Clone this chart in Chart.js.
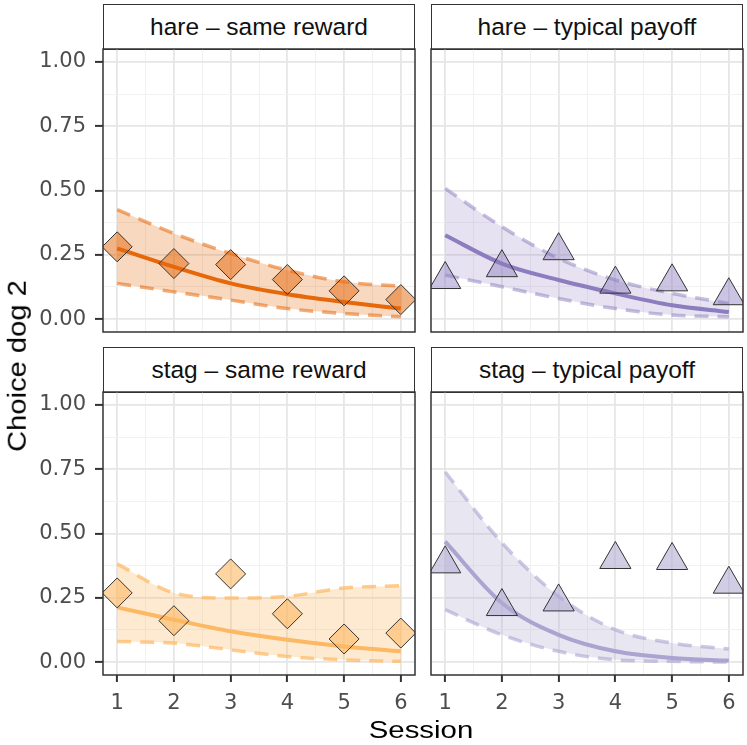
<!DOCTYPE html>
<html>
<head>
<meta charset="utf-8">
<script src="https://cdn.jsdelivr.net/npm/chart.js@4.4.1/dist/chart.umd.min.js"></script>
<style>
  body { margin: 0; background: #fff; }
  #wrap { position: relative; width: 747px; height: 745px; overflow: hidden; font-family: "Liberation Sans", Arial, sans-serif; }
  canvas { position: absolute; }
  .strip { position: absolute; box-sizing: border-box; border: 1.5px solid #333; background: #fff; color: #111; font-size: 24.5px; text-align: center; padding-top: 2px; }
  .title { position: absolute; color: #000; white-space: nowrap; line-height: 1; }
</style>
</head>
<body>
<div id="wrap"></div>
<script>
const sessions = [1, 2, 3, 4, 5, 6];
const xTickLabels = ["1", "2", "3", "4", "5", "6"];
const yTickValues = [0, 0.25, 0.5, 0.75, 1];
const yTickLabels = ["0.00", "0.25", "0.50", "0.75", "1.00"];
const panelTitles = ["hare – same reward", "hare – typical payoff", "stag – same reward", "stag – typical payoff"];

// hare – same reward
const hareSamePoints = [0.281, 0.216, 0.212, 0.154, 0.110, 0.076];
const hareSameFit = [0.275, 0.203, 0.139, 0.097, 0.067, 0.041];
const hareSameUpper = [0.426, 0.333, 0.255, 0.190, 0.145, 0.128];
const hareSameLower = [0.139, 0.106, 0.074, 0.041, 0.022, 0.009];

// hare – typical payoff
const hareTypPoints = [0.154, 0.200, 0.266, 0.136, 0.145, 0.091];
const hareTypFit = [0.326, 0.216, 0.152, 0.100, 0.054, 0.028];
const hareTypUpper = [0.508, 0.359, 0.236, 0.152, 0.100, 0.061];
const hareTypLower = [0.171, 0.126, 0.080, 0.041, 0.016, 0.009];

// stag – same reward
const stagSamePoints = [0.269, 0.161, 0.343, 0.188, 0.090, 0.113];
const stagSameFit = [0.213, 0.165, 0.120, 0.087, 0.061, 0.042];
const stagSameUpper = [0.382, 0.269, 0.249, 0.256, 0.288, 0.297];
const stagSameLower = [0.080, 0.074, 0.048, 0.022, 0.009, 0.003];

// stag – typical payoff
const stagTypPoints = [0.382, 0.216, 0.234, 0.399, 0.395, 0.303];
const stagTypFit = [0.468, 0.230, 0.106, 0.042, 0.016, 0.006];
const stagTypUpper = [0.739, 0.464, 0.256, 0.126, 0.074, 0.051];
const stagTypLower = [0.204, 0.106, 0.042, 0.009, 0.003, 0.000];

/** ────── STYLE ────── */
Chart.defaults.font.family = '"DejaVu Sans", sans-serif';
Chart.defaults.font.size = 21;
Chart.defaults.color = "#4d4d4d";

const PAD = 3;
const yMinor = [0.125, 0.375, 0.625, 0.875];
const xMinor = sessions.slice(1).map((s) => s - 0.5);

const panels = [
  {
    title: panelTitles[0], L: 103, T: 49, R: 415, B: 332, yLabels: true, xLabels: false,
    points: hareSamePoints, fit: hareSameFit, upper: hareSameUpper, lower: hareSameLower,
    shape: "rectRot", radius: 15, line: "#e6680a", dash: "rgba(230,104,10,0.55)",
    ribbon: "rgba(230,104,10,0.26)", fillPt: "rgba(230,104,10,0.5)",
  },
  {
    title: panelTitles[1], L: 431, T: 49, R: 743, B: 332, yLabels: false, xLabels: false,
    points: hareTypPoints, fit: hareTypFit, upper: hareTypUpper, lower: hareTypLower,
    shape: "triangle", radius: 18, line: "#8b7dbe", dash: "rgba(139,125,190,0.5)",
    ribbon: "rgba(139,125,190,0.22)", fillPt: "rgba(139,125,190,0.45)",
  },
  {
    title: panelTitles[2], L: 103, T: 392, R: 415, B: 675, yLabels: true, xLabels: true,
    points: stagSamePoints, fit: stagSameFit, upper: stagSameUpper, lower: stagSameLower,
    shape: "rectRot", radius: 15, line: "#fdb863", dash: "rgba(253,184,99,0.7)",
    ribbon: "rgba(253,184,99,0.3)", fillPt: "rgba(253,184,99,0.6)",
  },
  {
    title: panelTitles[3], L: 431, T: 392, R: 743, B: 675, yLabels: false, xLabels: true,
    points: stagTypPoints, fit: stagTypFit, upper: stagTypUpper, lower: stagTypLower,
    shape: "triangle", radius: 18, line: "#aba3d0", dash: "rgba(171,163,208,0.6)",
    ribbon: "rgba(178,171,210,0.3)", fillPt: "rgba(178,171,210,0.6)",
  },
];

const panelBorder = {
  id: "panelBorder",
  afterDatasetsDraw(chart) {
    const { ctx, chartArea: a } = chart;
    ctx.save();
    ctx.strokeStyle = "#333";
    ctx.lineWidth = 1.5;
    ctx.strokeRect(a.left, a.top, a.right - a.left, a.bottom - a.top);
    ctx.restore();
  },
};

const isMinor = (v, minors) => minors.some((m) => Math.abs(m - v) < 1e-6);

function buildDatasets(p) {
  const pts = (arr) => sessions.map((x, i) => ({ x, y: arr[i] }));
  const band = { borderWidth: 3.5, borderDash: [14, 9], pointRadius: 0, cubicInterpolationMode: "monotone" };
  return [
    {
      data: pts(p.points), showLine: false, pointStyle: p.shape, pointRadius: p.radius,
      pointBackgroundColor: p.fillPt, pointBorderColor: "#333", pointBorderWidth: 1, order: 0,
    },
    {
      data: pts(p.fit), borderColor: p.line, borderWidth: 4, pointRadius: 0,
      cubicInterpolationMode: "monotone", fill: false, order: 1,
    },
    { ...band, data: pts(p.upper), borderColor: p.dash, backgroundColor: p.ribbon, fill: "+1", order: 3 },
    { ...band, data: pts(p.lower), borderColor: p.dash, fill: false, order: 2 },
  ];
}

function makePanel(p) {
  const wrap = document.getElementById("wrap");
  const yw = p.yLabels ? p.L - PAD : 0;
  const xh = p.xLabels ? 48 : 0;
  const left = p.L - PAD - yw;
  const top = p.T - PAD;
  const w = p.R - p.L + 2 * PAD + yw;
  const h = p.B - p.T + 2 * PAD + xh;

  const strip = document.createElement("div");
  strip.className = "strip";
  strip.textContent = p.title;
  Object.assign(strip.style, {
    left: p.L + "px", top: p.T - 45 + "px", width: p.R - p.L + "px", height: "46px", lineHeight: "40px",
  });
  wrap.appendChild(strip);

  const canvas = document.createElement("canvas");
  canvas.width = w;
  canvas.height = h;
  Object.assign(canvas.style, { left: left + "px", top: top + "px", width: w + "px", height: h + "px" });
  wrap.appendChild(canvas);

  const zeroPad = (s) => { s.paddingLeft = s.paddingRight = s.paddingTop = s.paddingBottom = 0; };

  new Chart(canvas.getContext("2d"), {
    type: "line",
    data: { datasets: buildDatasets(p) },
    plugins: [panelBorder],
    options: {
      responsive: false,
      animation: false,
      events: [],
      layout: { padding: PAD, autoPadding: false },
      plugins: { legend: { display: false }, tooltip: { enabled: false } },
      scales: {
        x: {
          type: "linear", min: 0.75, max: 6.25,
          afterBuildTicks: (s) => { s.ticks = [...sessions, ...xMinor].sort((a, b) => a - b).map((v) => ({ value: v })); },
          afterFit: (s) => { s.height = xh; zeroPad(s); },
          border: { display: false },
          grid: {
            color: (c) => (isMinor(c.tick.value, xMinor) ? "#f1f1f1" : "#e6e6e6"),
            lineWidth: (c) => (isMinor(c.tick.value, xMinor) ? 1 : 1.8),
            drawTicks: p.xLabels, tickLength: 7, tickWidth: 2,
            tickColor: (c) => (isMinor(c.tick.value, xMinor) ? "rgba(0,0,0,0)" : "#333"),
          },
          ticks: {
            display: p.xLabels, autoSkip: false, maxRotation: 0, padding: 9,
            callback: (v) => { const i = sessions.indexOf(v); return i < 0 ? "" : xTickLabels[i]; },
          },
        },
        y: {
          type: "linear", min: -0.05, max: 1.05,
          afterBuildTicks: (s) => { s.ticks = [...yTickValues, ...yMinor].sort((a, b) => a - b).map((v) => ({ value: v })); },
          afterFit: (s) => { s.width = yw; zeroPad(s); },
          border: { display: false },
          grid: {
            color: (c) => (isMinor(c.tick.value, yMinor) ? "#f1f1f1" : "#e6e6e6"),
            lineWidth: (c) => (isMinor(c.tick.value, yMinor) ? 1 : 1.8),
            drawTicks: p.yLabels, tickLength: 8, tickWidth: 2,
            tickColor: (c) => (isMinor(c.tick.value, yMinor) ? "rgba(0,0,0,0)" : "#333"),
          },
          ticks: {
            display: p.yLabels, autoSkip: false, padding: 9,
            callback: (v) => { const i = yTickValues.indexOf(v); return i < 0 ? "" : yTickLabels[i]; },
          },
        },
      },
    },
  });
}

function addTitle(text, cx, cy, size, transform) {
  const el = document.createElement("div");
  el.className = "title";
  el.textContent = text;
  Object.assign(el.style, { left: cx + "px", top: cy + "px", fontSize: size + "px", transform });
  document.getElementById("wrap").appendChild(el);
}

/** ────── BOOTSTRAP ────── */
panels.forEach(makePanel);
addTitle("Session", 421, 730, 24.7, "translate(-50%,-50%) scaleX(1.19)");
addTitle("Choice dog 2", 17, 366, 26.5, "translate(-50%,-50%) rotate(-90deg) scaleX(1.1)");
</script>
</body>
</html>
